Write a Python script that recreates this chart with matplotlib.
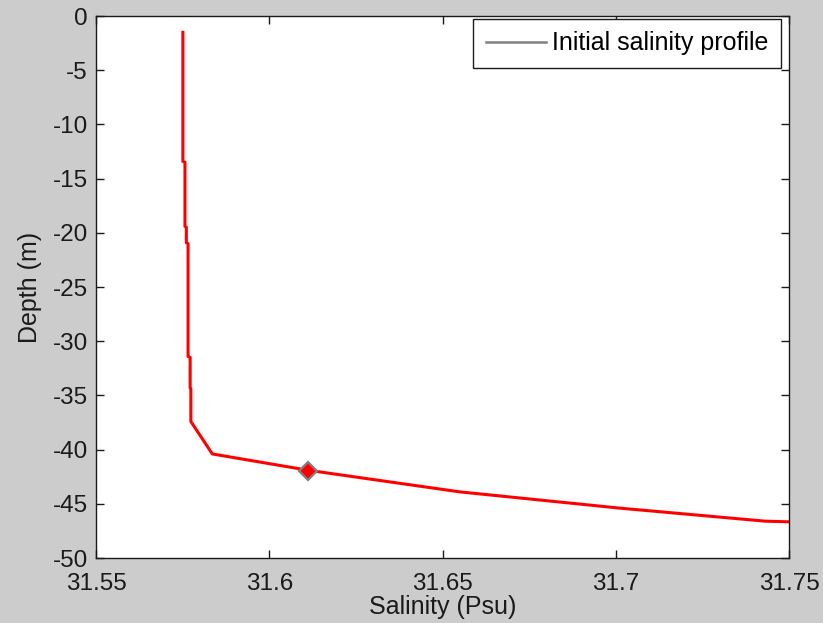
import numpy as np
import matplotlib
matplotlib.use("Agg")
import matplotlib.pyplot as plt
from matplotlib.lines import Line2D

plt.rcParams['font.family'] = ['Liberation Sans', 'DejaVu Sans']
plt.rcParams['axes.unicode_minus'] = False

# salinity profile (Psu, m)
salinity = [31.5750, 31.5750, 31.5756, 31.5756, 31.5760, 31.5760, 31.5765,
            31.5765, 31.5771, 31.5771, 31.5773, 31.5773, 31.5835, 31.6111,
            31.6550, 31.7012, 31.7431, 31.7600]
depth = [-1.5, -13.4, -13.5, -19.4, -19.5, -20.9, -21.0,
         -31.4, -31.5, -34.3, -34.4, -37.4, -40.4, -41.9,
         -43.9, -45.4, -46.6, -46.75]

marker_s = [31.611]
marker_d = [-42.0]

xticks = [31.55, 31.6, 31.65, 31.7, 31.75]
xticklabels = ['31.55', '31.6', '31.65', '31.7', '31.75']
yticks = list(range(-50, 1, 5))

fs = 18
fig = plt.figure(figsize=(8.23, 6.23), dpi=100, facecolor='#cccccc')
ax = fig.add_axes([0.117, 0.1043, 0.8417, 0.870])
ax.set_facecolor('white')

ax.plot(salinity, depth, color='red', lw=2.2, solid_joinstyle='miter')
ax.plot(marker_s, marker_d, linestyle='none', marker='D', ms=9,
        mfc='red', mec='#808080', mew=1.6)

ax.set_xlim(31.55, 31.75)
ax.set_ylim(-50, 0)
ax.set_xticks(xticks)
ax.set_xticklabels(xticklabels)
ax.set_yticks(yticks)
ax.tick_params(direction='in', length=6, width=1, top=True, right=True,
               labelsize=17.5, colors='#1a1a1a')
ax.tick_params(axis='x', pad=11)
ax.tick_params(axis='y', pad=6)
for sp in ax.spines.values():
    sp.set_linewidth(1.0)
    sp.set_color('#1a1a1a')

ax.set_xlabel('Salinity (Psu)', fontsize=fs, color='#1a1a1a', labelpad=0)
ax.set_ylabel('Depth (m)', fontsize=fs, color='#1a1a1a', labelpad=8)

handle = Line2D([], [], color='#808080', lw=1.8)
leg = ax.legend([handle], ['Initial salinity profile'], loc='upper right',
                bbox_to_anchor=(0.9885, 0.9945), borderaxespad=0,
                fontsize=fs, fancybox=False, framealpha=1, edgecolor='#1a1a1a',
                handlelength=2.4, handletextpad=0.25, borderpad=0.5)
leg.get_frame().set_linewidth(1.0)

fig.savefig('out.png', dpi=100, facecolor=fig.get_facecolor())
